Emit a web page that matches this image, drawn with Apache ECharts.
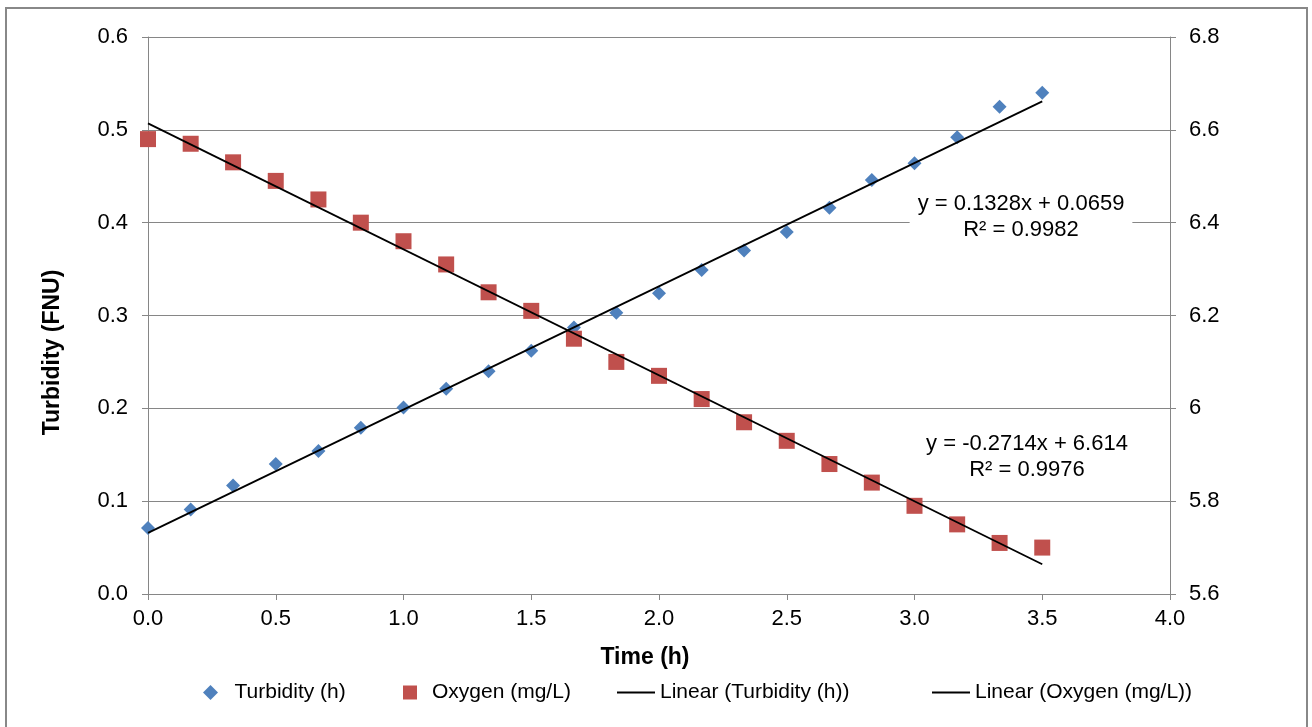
<!DOCTYPE html>
<html>
<head>
<meta charset="utf-8">
<script src="https://cdn.jsdelivr.net/npm/echarts@6/dist/echarts.min.js"></script>
<style>
  html, body { margin: 0; padding: 0; background: #fff; }
  #chart { width: 1312px; height: 727px; }
</style>
</head>
<body>
<div id="chart"></div>
<script>
// time (h) of each sample
const timeH = [0, 0.167, 0.333, 0.5, 0.667, 0.833, 1, 1.167, 1.333, 1.5, 1.667,
  1.833, 2, 2.167, 2.333, 2.5, 2.667, 2.833, 3, 3.167, 3.333, 3.5];
const turbidity = [0.071, 0.091, 0.117, 0.140, 0.154, 0.179, 0.201, 0.221, 0.240, 0.262, 0.287,
  0.303, 0.324, 0.349, 0.370, 0.390, 0.416, 0.446, 0.464, 0.492, 0.525, 0.540];
const oxygen = [6.58, 6.57, 6.53, 6.49, 6.45, 6.40, 6.36, 6.31, 6.25, 6.21, 6.15,
  6.10, 6.07, 6.02, 5.97, 5.93, 5.88, 5.84, 5.79, 5.75, 5.71, 5.70];
// trendline end points (x = 0 and x = 3.5)
const trendX = [0, 3.5];
const turbTrend = [0.0659, 0.5307];
const oxyTrend = [6.614, 5.664];
const turbEq = 'y = 0.1328x + 0.0659\nR² = 0.9982';
const oxyEq = 'y = -0.2714x + 6.614\nR² = 0.9976';

const FONT = 'Liberation Sans, Arial, sans-serif';
const AX = '#868686';
const BLUE = '#4F81BD';
const RED = '#C0504D';
const zip = (xs, ys) => xs.map((x, i) => [x, ys[i]]);

const chart = echarts.init(document.getElementById('chart'));

const axisCommon = {
  axisLine: {show: true, lineStyle: {color: AX, width: 1}},
  axisTick: {show: true, inside: false, length: 6, lineStyle: {color: AX}},
  axisLabel: {color: '#000', fontFamily: FONT, fontSize: 22},
};

const legendCommon = {
  bottom: 19,
  textStyle: {color: '#000', fontFamily: FONT, fontSize: 21},
  itemGap: 0,
  itemHeight: 14,
  symbolKeepAspect: true,
  selectedMode: false,
};

chart.setOption({
  animation: false,
  grid: {left: 148, right: 142, top: 37, bottom: 133},
  xAxis: {
    type: 'value', min: 0, max: 4, interval: 0.5,
    ...axisCommon,
    axisLabel: {...axisCommon.axisLabel, margin: 14, formatter: v => v.toFixed(1)},
    splitLine: {show: false},
    name: 'Time (h)', nameLocation: 'middle', nameGap: 52,
    nameTextStyle: {color: '#000', fontFamily: FONT, fontSize: 23, fontWeight: 'bold', padding: [0, 28, 0, 0]},
  },
  yAxis: [
    {
      type: 'value', min: 0, max: 0.6, interval: 0.1, position: 'left',
      ...axisCommon,
      axisLabel: {...axisCommon.axisLabel, margin: 20, formatter: v => v.toFixed(1)},
      splitLine: {show: true, lineStyle: {color: AX, width: 1}},
      name: 'Turbidity (FNU)', nameLocation: 'middle', nameGap: 84,
      nameTextStyle: {color: '#000', fontFamily: FONT, fontSize: 23, fontWeight: 'bold', padding: [0, 74, 0, 0]},
    },
    {
      type: 'value', min: 5.6, max: 6.8, interval: 0.2, position: 'right',
      ...axisCommon,
      axisLabel: {...axisCommon.axisLabel, margin: 19},
      splitLine: {show: false},
    },
  ],
  legend: [
    {...legendCommon, left: 198, itemWidth: 38, itemHeight: 15,
      data: [{name: 'Turbidity (h)', icon: 'path://M0,-1L1,0L0,1L-1,0Z'}]},
    {...legendCommon, left: 398, itemWidth: 34,
      data: [{name: 'Oxygen (mg/L)', icon: 'path://M0,0H1V1H0Z'}]},
    {...legendCommon, left: 612, itemWidth: 38, itemHeight: 2,
      data: [{name: 'Linear (Turbidity (h))', icon: 'rect'}]},
    {...legendCommon, left: 927, itemWidth: 38, itemHeight: 2,
      data: [{name: 'Linear (Oxygen (mg/L))', icon: 'rect'}]},
  ],
  series: [
    {
      name: 'Turbidity (h)', type: 'scatter', yAxisIndex: 0,
      symbol: 'diamond', symbolSize: 14,
      itemStyle: {color: BLUE, opacity: 1},
      data: zip(timeH, turbidity),
    },
    {
      name: 'Oxygen (mg/L)', type: 'scatter', yAxisIndex: 1,
      symbol: 'rect', symbolSize: 16,
      itemStyle: {color: RED, opacity: 1},
      data: zip(timeH, oxygen),
    },
    {
      name: 'Linear (Turbidity (h))', type: 'line', yAxisIndex: 0,
      symbol: 'none', lineStyle: {color: '#000', width: 1.8},
      itemStyle: {color: '#000'},
      data: zip(trendX, turbTrend), z: 5,
    },
    {
      name: 'Linear (Oxygen (mg/L))', type: 'line', yAxisIndex: 1,
      symbol: 'none', lineStyle: {color: '#000', width: 1.8},
      itemStyle: {color: '#000'},
      data: zip(trendX, oxyTrend), z: 5,
    },
  ],
  graphic: [
    {
      type: 'rect', z: -1, silent: true,
      shape: {x: 6, y: 8, width: 1301, height: 740},
      style: {fill: 'none', stroke: '#888', lineWidth: 2},
    },
    {
      type: 'text', x: 1021, y: 217, z: 10,
      style: {
        text: turbEq, align: 'center', verticalAlign: 'middle',
        font: '22px ' + FONT, lineHeight: 26, fill: '#000',
        backgroundColor: '#fff', padding: [2, 8],
      },
    },
    {
      type: 'text', x: 1027, y: 457, z: 10,
      style: {
        text: oxyEq, align: 'center', verticalAlign: 'middle',
        font: '22px ' + FONT, lineHeight: 26, fill: '#000',
        backgroundColor: '#fff', padding: [2, 8],
      },
    },
  ],
});
</script>
</body>
</html>
